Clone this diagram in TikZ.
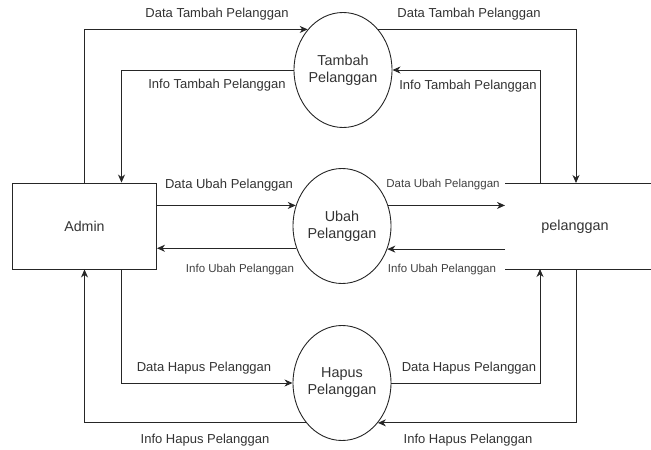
\documentclass[tikz,border=0pt]{standalone}
\usepackage{fontspec}
\setmainfont{Liberation Sans}
\usetikzlibrary{arrows.meta,shapes.geometric,calc}
\begin{document}
\begin{tikzpicture}[x=1pt,y=-1pt,
  line width=0.9pt,
  flow/.style={draw=black!85,-{Stealth[length=8pt,width=7pt,inset=2.5pt]}},
  proc/.style={draw=black!85,ellipse,minimum width=98pt,minimum height=115pt,inner sep=0pt,
    align=center,font=\fontsize{14.4}{17}\selectfont,text=black!80},
  lbl/.style={font=\fontsize{13}{15}\selectfont,text=black!80,inner sep=0pt},
  slbl/.style={font=\fontsize{11.5}{13}\selectfont,text=black!75,inner sep=0pt},
  ent/.style={draw=black!85,minimum width=144pt,minimum height=86pt,inner sep=0pt,
    font=\fontsize{14.2}{16}\selectfont,text=black!80}]
\useasboundingbox (0,0) rectangle (651,450);
% nodes
\node[ent] (admin) at (84.5,226) {Admin};
\node[proc] (tambah) at (343,70) {Tambah\\Pelanggan};
\node[proc] (ubah) at (342,226) {Ubah\\Pelanggan};
\node[proc] (hapus) at (342,383) {Hapus\\Pelanggan};
\node[font=\fontsize{14.4}{16}\selectfont,text=black!80,inner sep=0pt] (store) at (575,227) {pelanggan};
% data store lines
\coordinate (stTL) at (505,183);
\coordinate (stTR) at (651,183);
\coordinate (stBL) at (505,269);
\coordinate (stBR) at (651,269);
\coordinate (stTa) at (540,183);
\coordinate (stTb) at (576,183);
\coordinate (stBa) at (540,269);
\coordinate (stBb) at (576,269);
\draw[black!85] (stTL) -- (stTR);
\draw[black!85] (stBL) -- (stBR);
% connectors
\draw[flow] (admin.north) |- (tambah.131);
\draw[flow] (tambah.west) -| ([xshift=37pt]admin.north);
\draw[flow] (tambah.49) -| (stTb);
\draw[flow] (stTa) |- (tambah.east);
\draw[flow] (admin.east |- ubah.156) -- (ubah.156);
\draw[flow] (ubah.206) -- (admin.east |- ubah.206);
\draw[flow] (ubah.24) -- (stTL |- ubah.24);
\draw[flow] (stTL |- ubah.333.6) -- (ubah.333.6);
\draw[flow] ([xshift=37pt]admin.south) |- (hapus.west);
\draw[flow] (hapus.228) -| (admin.south);
\draw[flow] (hapus.east) -| (stBa);
\draw[flow] (stBb) |- (hapus.312);
% labels
\node[lbl] at (217,14) {Data Tambah Pelanggan};
\node[lbl] at (217,85) {Info Tambah Pelanggan};
\node[lbl] at (469,14) {Data Tambah Pelanggan};
\node[lbl] at (468,86) {Info Tambah Pelanggan};
\node[lbl] at (229,185) {Data Ubah Pelanggan};
\node[slbl] at (240,270) {Info Ubah Pelanggan};
\node[slbl] at (443,185) {Data Ubah Pelanggan};
\node[slbl] at (442,270) {Info Ubah Pelanggan};
\node[lbl] at (204,368) {Data Hapus Pelanggan};
\node[lbl] at (205,440) {Info Hapus Pelanggan};
\node[lbl] at (469,368) {Data Hapus Pelanggan};
\node[lbl] at (468,440) {Info Hapus Pelanggan};
\end{tikzpicture}
\end{document}
